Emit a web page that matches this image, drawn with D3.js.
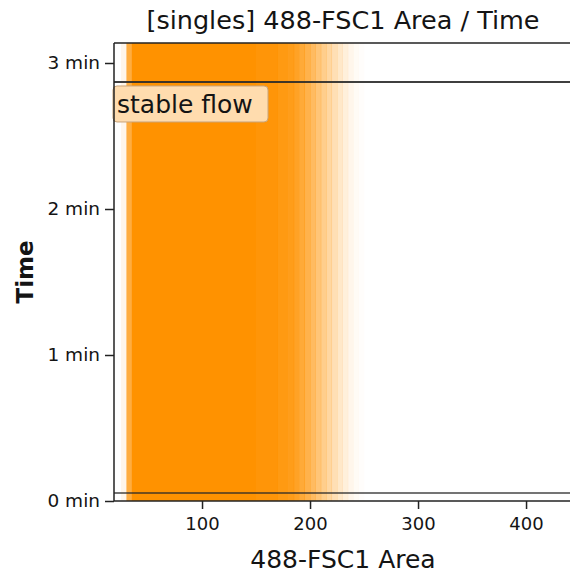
<!DOCTYPE html>
<html>
<head>
<meta charset="utf-8">
<script src="https://cdn.jsdelivr.net/npm/d3@7"></script>
<style>
  body { margin: 0; background: #fff; }
  text { font-family: "DejaVu Sans", sans-serif; fill: #141414; }
</style>
</head>
<body>
<div id="chart"></div>
<script>
// FSC1 area bins (edges) and how densely each bin is filled with events (0..1)
var fscEdges   = [25, 30, 35, 150, 170, 180, 185, 190, 195, 200, 205, 210, 215, 220, 225, 230, 235, 240, 245, 250];
var fscDensity = [0.08, 0.75, 1, 0.97, 0.93, 0.9, 0.85, 0.78, 0.7, 0.62, 0.53, 0.45, 0.37, 0.29, 0.21, 0.14, 0.08, 0.04, 0.015];
// acquisition time span of the events (min)
var timeSpan = [0, 3.2];

// gate
var gateName = "stable flow";
var gateTime = [0.055, 2.87];

var xTicks = [100, 200, 300, 400];
var yTicks = [0, 1, 2, 3];
var xMinor = d3.range(20, 440, 20);
var yMinor = d3.range(0, 3.2, 0.2);

var width = 570, height = 577;
var margin = { top: 43, right: 0, bottom: 76, left: 114 };

var x = d3.scaleLinear().domain([18.5, 440.7]).range([margin.left, width]);
var y = d3.scaleLinear().domain([0, 3.137]).range([height - margin.bottom, margin.top]);

var svg = d3.select('#chart').append('svg')
  .attr('width', width)
  .attr('height', height);

svg.append('clipPath').attr('id', 'plotclip')
  .append('rect')
  .attr('x', margin.left).attr('y', margin.top)
  .attr('width', width - margin.left)
  .attr('height', height - margin.bottom - margin.top);

// event density, one strip per bin
var bins = fscDensity.map(function (d, i) {
  return { lo: fscEdges[i], hi: fscEdges[i + 1], dens: d };
});

svg.append('g').attr('clip-path', 'url(#plotclip)')
  .selectAll('rect')
  .data(bins)
  .enter()
  .append('rect')
  .attr('x', d => x(d.lo))
  .attr('width', d => x(d.hi) - x(d.lo) + 0.4)
  .attr('y', y(timeSpan[1]))
  .attr('height', y(timeSpan[0]) - y(timeSpan[1]))
  .attr('fill', '#ff9200')
  .attr('fill-opacity', d => d.dens);

// gate lines
svg.append('g').selectAll('line')
  .data(gateTime)
  .enter()
  .append('line')
  .attr('x1', margin.left).attr('x2', width)
  .attr('y1', d => y(d)).attr('y2', d => y(d))
  .attr('stroke', '#2a2a2a')
  .attr('stroke-opacity', (d, i) => i == 0 ? 0.65 : 0.9)
  .attr('stroke-width', 2);

// gate label
var lab = svg.append('g').attr('transform', 'translate(' + (margin.left - 1) + ',' + (y(gateTime[1]) + 4) + ')');
lab.append('rect')
  .attr('width', 155).attr('height', 36)
  .attr('rx', 4)
  .attr('fill', '#ffdcae')
  .attr('stroke', '#c9a57a')
  .attr('stroke-width', 1);
lab.append('text')
  .attr('x', 4).attr('y', 27)
  .style('font-size', '25px')
  .text(gateName);

// frame top
svg.append('line')
  .attr('x1', margin.left).attr('x2', width)
  .attr('y1', margin.top).attr('y2', margin.top)
  .attr('stroke', '#222').attr('stroke-width', 1.5);

// x axis
var gx = svg.append('g').attr('transform', 'translate(0,' + (height - margin.bottom) + ')');
gx.call(d3.axisBottom(x).tickValues(xMinor).tickSize(5).tickFormat(''));
gx.call(d3.axisBottom(x).tickValues(xTicks).tickSize(8).tickPadding(8));
gx.selectAll('.domain').attr('d', 'M' + margin.left + ',0H' + width).attr('stroke', '#222').attr('stroke-width', 1.5);
gx.selectAll('line').attr('stroke', '#222').attr('stroke-width', 1.5);
gx.selectAll('text').style('font-size', '18px').attr('fill', '#141414');

// y axis
var gy = svg.append('g').attr('transform', 'translate(' + margin.left + ',0)');
gy.call(d3.axisLeft(y).tickValues(yMinor).tickSize(4).tickFormat(''));
gy.call(d3.axisLeft(y).tickValues(yTicks).tickSize(9).tickPadding(5).tickFormat(d => d + ' min'));
gy.selectAll('.domain').attr('d', 'M0,' + margin.top + 'V' + (height - margin.bottom)).attr('stroke', '#222').attr('stroke-width', 1.5);
gy.selectAll('line').attr('stroke', '#222').attr('stroke-width', 1.5);
gy.selectAll('text').style('font-size', '18.5px').attr('fill', '#141414');

// titles
var cx = (margin.left + width) / 2 + 1;
svg.append('text')
  .attr('x', cx).attr('y', 29)
  .attr('text-anchor', 'middle')
  .style('font-size', '25.5px')
  .text('[singles] 488-FSC1 Area / Time');

svg.append('text')
  .attr('x', cx).attr('y', 568)
  .attr('text-anchor', 'middle')
  .style('font-size', '25px')
  .text('488-FSC1 Area');

svg.append('text')
  .attr('transform', 'translate(33,' + ((margin.top + height - margin.bottom) / 2) + ') rotate(-90)')
  .attr('text-anchor', 'middle')
  .style('font-size', '23px')
  .style('font-weight', 'bold')
  .text('Time');
</script>
</body>
</html>
